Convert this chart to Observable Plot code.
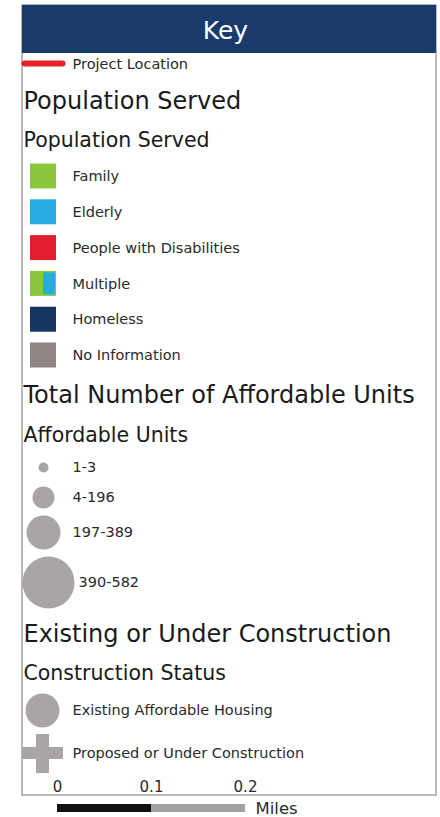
<!DOCTYPE html>
<html>
<head>
<meta charset="utf-8">
<script src="https://cdn.jsdelivr.net/npm/d3@7"></script>
<script src="https://cdn.jsdelivr.net/npm/@observablehq/plot@0.6"></script>
<style>
  html, body { margin: 0; padding: 0; background: #fff; }
  #chart svg { display: block; }
</style>
</head>
<body>
<div id="chart"></div>
<script>
// ---- Data (legend content) ----
const title = "Key";
const projectLabel = "Project Location";
const headings = ["Population Served", "Total Number of Affordable Units", "Existing or Under Construction"];
const subheadings = ["Population Served", "Affordable Units", "Construction Status"];
const populationCategories = ["Family", "Elderly", "People with Disabilities", "Multiple", "Homeless", "No Information"];
const unitRanges = ["1-3", "4-196", "197-389", "390-582"];
const constructionStatus = ["Existing Affordable Housing", "Proposed or Under Construction"];
const scaleTicks = [0, 0.1, 0.2];
const scaleUnit = "Miles";

// ---- Styles ----
const populationColors = {
  "Family": "#8cc63f", "Elderly": "#29abe2", "People with Disabilities": "#e21f2f",
  "Multiple": "#8cc63f", "Homeless": "#15375f", "No Information": "#8e8683"
};
const unitRadii = [5, 11, 17, 26];
const markGray = "#a9a5a4";
const navy = "#183b6b";
const font = "DejaVu Sans, Verdana, sans-serif";
const labelSize = 14.5;

// ---- Layout ----
const L = {
  frame: {x1: 22, x2: 436, y1: 5, y2: 795},
  header: {y2: 53},
  projectY: 64,
  headingY: [101, 395, 634],
  subY: [140, 435, 673],
  popY0: 176, popStep: 35.8,
  unitY: [467, 497, 532, 582], unitX: [43, 43, 43, 48], unitLabelX: [72, 72, 72, 78],
  statusY: [710, 753],
  symX: 43, labelX: 72, headX: 23,
  scaleLabelY: 787, scaleBarY1: 804, scaleBarY2: 812
};
const miles = d3.scaleLinear().domain([0, 0.2]).range([57, 245]);

const popRows = populationCategories.map((c, i) => ({c, y: L.popY0 + i * L.popStep}));
const unitRows = unitRanges.map((u, i) => ({u, y: L.unitY[i], x: L.unitX[i], r: unitRadii[i], lx: L.unitLabelX[i]}));
const statusRows = constructionStatus.map((s, i) => ({s, y: L.statusY[i]}));
const scaleSegs = [
  {a: scaleTicks[0], b: scaleTicks[1], fill: "#111"},
  {a: scaleTicks[1], b: scaleTicks[2], fill: "#a3a3a3"}
];

const plot = Plot.plot({
  width: 440, height: 817, margin: 0,
  x: {type: "identity", axis: null},
  y: {type: "identity", axis: null},
  r: {type: "identity"},
  style: {fontFamily: font, background: "#fff"},
  marks: [
    // frame & header
    Plot.rect([L.frame], {x1: "x1", x2: "x2", y1: "y1", y2: "y2", fill: "#fff", stroke: "#8a8a8a", strokeWidth: 1.2}),
    Plot.rect([L.frame], {x1: "x1", x2: "x2", y1: "y1", y2: () => L.header.y2, fill: navy}),
    Plot.text([title], {x: 225, y: (L.frame.y1 + L.header.y2) / 2 + 1, text: d => d, fill: "#fff", fontSize: 25, textAnchor: "middle"}),
    // project location
    Plot.link([projectLabel], {x1: 24, x2: 62, y1: L.projectY - 1, y2: L.projectY - 1, stroke: "#e8202a", strokeWidth: 6, strokeLinecap: "round"}),
    Plot.text([projectLabel], {x: L.labelX, y: L.projectY, text: d => d, fontSize: labelSize, fill: "#2a2a2a", textAnchor: "start"}),
    // headings
    Plot.text(headings, {x: L.headX, y: (d, i) => L.headingY[i], text: d => d, fontSize: 24, fill: "#1a1a1a", textAnchor: "start"}),
    Plot.text(subheadings, {x: L.headX, y: (d, i) => L.subY[i], text: d => d, fontSize: 20.5, fill: "#1a1a1a", textAnchor: "start"}),
    // population swatches
    Plot.rect(popRows, {x1: L.symX - 13, x2: L.symX + 13, y1: d => d.y - 12.5, y2: d => d.y + 12.5, fill: d => populationColors[d.c]}),
    Plot.rect(popRows.filter(d => d.c === "Multiple"), {x1: L.symX, x2: L.symX + 12, y1: d => d.y - 11, y2: d => d.y + 11, fill: populationColors["Elderly"]}),
    Plot.text(popRows, {x: L.labelX, y: "y", text: "c", fontSize: labelSize, fill: "#2a2a2a", textAnchor: "start"}),
    // affordable units
    Plot.dot(unitRows, {x: "x", y: "y", r: "r", fill: markGray}),
    Plot.text(unitRows, {x: "lx", y: "y", text: "u", fontSize: labelSize, fill: "#2a2a2a", textAnchor: "start"}),
    // construction status
    Plot.dot(statusRows.slice(0, 1), {x: L.symX - 1, y: "y", r: () => 17, fill: markGray}),
    Plot.rect(statusRows.slice(1), {x1: L.symX - 7, x2: L.symX + 6, y1: d => d.y - 19, y2: d => d.y + 20, fill: markGray}),
    Plot.rect(statusRows.slice(1), {x1: 22, x2: 63, y1: d => d.y - 6, y2: d => d.y + 6, fill: markGray}),
    Plot.text(statusRows, {x: L.labelX, y: "y", text: "s", fontSize: labelSize, fill: "#2a2a2a", textAnchor: "start"}),
    // scale bar
    Plot.text(scaleTicks, {x: d => miles(d), y: L.scaleLabelY, text: d => String(d), fontSize: 15, fill: "#2a2a2a", textAnchor: "middle"}),
    Plot.rect(scaleSegs, {x1: d => miles(d.a), x2: d => miles(d.b), y1: L.scaleBarY1, y2: L.scaleBarY2, fill: "fill"}),
    Plot.text([scaleUnit], {x: 255, y: (L.scaleBarY1 + L.scaleBarY2) / 2, text: d => d, fontSize: 16.5, fill: "#2a2a2a", textAnchor: "start"})
  ]
});
document.getElementById("chart").appendChild(plot);
</script>
</body>
</html>
